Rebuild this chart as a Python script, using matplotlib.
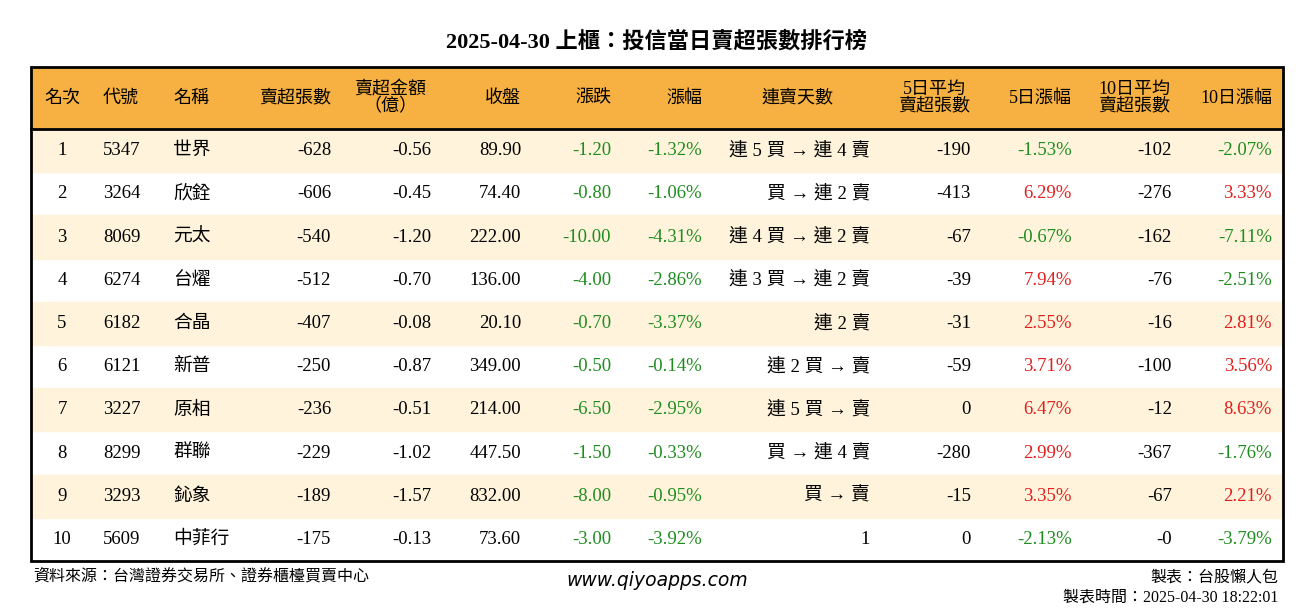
import matplotlib.pyplot as plt
from matplotlib.patches import Rectangle

plt.rcParams['font.family'] = ['Liberation Serif', 'Noto Sans CJK TC']

title = '2025-04-30 上櫃：投信當日賣超張數排行榜'
headers = ['名次', '代號', '名稱', '賣超張數', '賣超金額\n（億）', '收盤', '漲跌', '漲幅',
           '連賣天數', '5日平均\n賣超張數', '5日漲幅', '10日平均\n賣超張數', '10日漲幅']
ranks = ['1', '2', '3', '4', '5', '6', '7', '8', '9', '10']
codes = ['5347', '3264', '8069', '6274', '6182', '6121', '3227', '8299', '3293', '5609']
names = ['世界', '欣銓', '元太', '台燿', '合晶', '新普', '原相', '群聯', '鈊象', '中菲行']
sell_qty = [-628, -606, -540, -512, -407, -250, -236, -229, -189, -175]
sell_amt = [-0.56, -0.45, -1.20, -0.70, -0.08, -0.87, -0.51, -1.02, -1.57, -0.13]
close = [89.90, 74.40, 222.00, 136.00, 20.10, 349.00, 214.00, 447.50, 832.00, 73.60]
change = [-1.20, -0.80, -10.00, -4.00, -0.70, -0.50, -6.50, -1.50, -8.00, -3.00]
pct = [-1.32, -1.06, -4.31, -2.86, -3.37, -0.14, -2.95, -0.33, -0.95, -3.92]
streak = ['連 5 買 → 連 4 賣', '買 → 連 2 賣', '連 4 買 → 連 2 賣', '連 3 買 → 連 2 賣',
          '連 2 賣', '連 2 買 → 賣', '連 5 買 → 賣', '買 → 連 4 賣', '買 → 賣', '1']
avg5 = ['-190', '-413', '-67', '-39', '-31', '-59', '0', '-280', '-15', '0']
pct5 = [-1.53, 6.29, -0.67, 7.94, 2.55, 3.71, 6.47, 2.99, 3.35, -2.13]
avg10 = ['-102', '-276', '-162', '-76', '-16', '-100', '-12', '-367', '-67', '-0']
pct10 = [-2.07, 3.33, -7.11, -2.51, 2.81, 3.56, 8.63, -1.76, 2.21, -3.79]

GREEN = '#1e8c1e'
RED = '#e0201e'

def col(v):
    return RED if v > 0 else GREEN

fig = plt.figure(figsize=(13.14, 6.12), dpi=100)
ax = fig.add_axes([0, 0, 1, 1])
ax.set_xlim(0, 1314)
ax.set_ylim(612, 0)
ax.axis('off')

left, right, top, head_bot, bot = 31, 1283, 67, 129, 561
row_h = (bot - head_bot) / len(ranks)

ax.text(657, 42, title, ha='center', va='center', fontsize=16, fontweight='bold')
ax.add_patch(Rectangle((left, top), right - left, head_bot - top, color='#f6b142', zorder=0))
for i in range(len(ranks)):
    if i % 2 == 0:
        ax.add_patch(Rectangle((left, head_bot + i * row_h), right - left, row_h,
                               color='#fff4db', zorder=0))
ax.add_patch(Rectangle((left, top), right - left, bot - top, fill=False, lw=2, ec='black'))
ax.plot([left, right], [head_bot, head_bot], color='black', lw=2)

# (x, alignment) for each column
cols = [(62, 'center'), (103, 'left'), (173, 'left'), (331, 'right'), (431, 'right'),
        (521, 'right'), (611, 'right'), (702, 'right'), (870, 'right'), (971, 'right'),
        (1072, 'right'), (1172, 'right'), (1272, 'right')]
hpos = [(62, 'center'), (103, 'left'), (173, 'left'), (331, 'right'), (390, 'center'),
        (521, 'right'), (611, 'right'), (702, 'right'), (797, 'center'), (934, 'center'),
        (1072, 'right'), (1134, 'center'), (1272, 'right')]
hy = (top + head_bot) / 2
for h, (x, ha) in zip(headers, hpos):
    ax.text(x, hy, h, ha=ha, va='center', fontsize=13, linespacing=0.95,
            multialignment='center')

for i in range(len(ranks)):
    y = head_bot + (i + 0.5) * row_h
    cells = [(ranks[i], 'black'), (codes[i], 'black'), (names[i], 'black'),
             (str(sell_qty[i]), 'black'), (f'{sell_amt[i]:.2f}', 'black'),
             (f'{close[i]:.2f}', 'black'), (f'{change[i]:.2f}', col(change[i])),
             (f'{pct[i]:.2f}%', col(pct[i])), (streak[i], 'black'), (avg5[i], 'black'),
             (f'{pct5[i]:.2f}%', col(pct5[i])), (avg10[i], 'black'),
             (f'{pct10[i]:.2f}%', col(pct10[i]))]
    for (t, c), (x, ha) in zip(cells, cols):
        ax.text(x, y, t, ha=ha, va='center', fontsize=13.5, color=c)

ax.text(33, 577, '資料來源：台灣證券交易所、證券櫃檯買賣中心', ha='left', va='center', fontsize=11.5)
ax.text(657, 580, 'www.qiyoapps.com', ha='center', va='center', fontsize=13.5,
        style='italic', family='DejaVu Sans')
ax.text(1278, 577, '製表：台股懶人包', ha='right', va='center', fontsize=11.5)
ax.text(1278, 598, '製表時間：2025-04-30 18:22:01', ha='right', va='center', fontsize=11.5)

fig.savefig('out.png', dpi=100)
